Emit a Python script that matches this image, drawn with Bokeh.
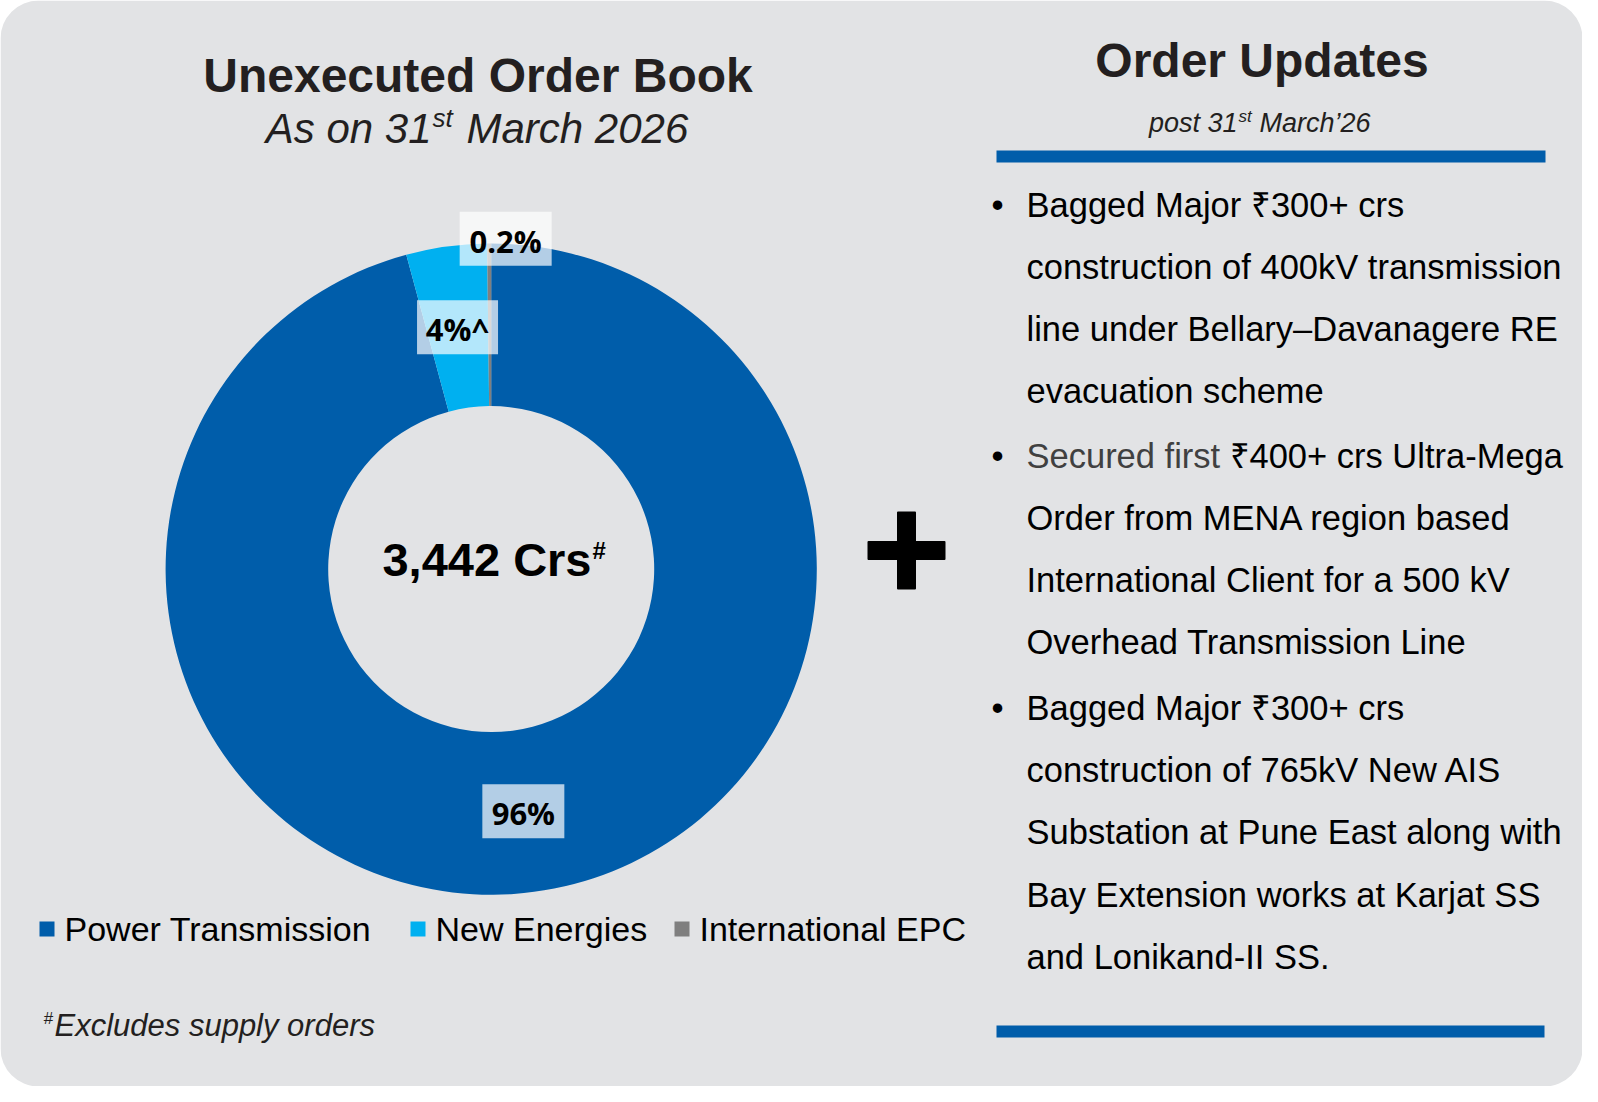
import numpy as np
from bokeh.plotting import figure
from bokeh.models import Range1d, BoxAnnotation
from bokeh.core.properties import value
from bokeh.embed import file_html
from bokeh.resources import INLINE

# ---------------- data ----------------
segments = ["Power Transmission", "New Energies", "International EPC"]
shares = [95.8, 4.0, 0.2]
share_labels = ["96%", "4%^", "0.2%"]
seg_colors = ["#005DAA", "#00B0F0", "#7F7F7F"]
total_text = "3,442 Crs"

title_left = "Unexecuted Order Book"
title_right = "Order Updates"
footnote = "Excludes supply orders"

bullet_1 = ["Bagged Major ₹300+ crs",
            "construction of 400kV transmission",
            "line under Bellary–Davanagere RE",
            "evacuation scheme"]
bullet_2 = ["Secured first ₹400+ crs Ultra-Mega",
            "Order from MENA region based",
            "International Client for a 500 kV",
            "Overhead Transmission Line"]
bullet_3 = ["Bagged Major ₹300+ crs",
            "construction of 765kV New AIS",
            "Substation at Pune East along with",
            "Bay Extension works at Karjat SS",
            "and Lonikand-II SS."]

# ---------------- layout helpers ----------------
W, H = 1582, 1086
def X(x):
    return x
def Y(y):
    return H - y

ARIAL = "Liberation Sans"
DARK = "#231F20"
KB = 0.38  # baseline correction (fraction of font size)

p = figure(width=W, height=H, x_range=Range1d(0, W), y_range=Range1d(0, H),
           output_backend="svg", toolbar_location=None, min_border=0,
           x_axis_location=None, y_axis_location=None)
p.grid.visible = False
p.outline_line_color = None
p.background_fill_color = "white"
p.border_fill_color = "white"

card = BoxAnnotation(left=0, right=W, bottom=0, top=H, fill_color="#E2E3E5",
                     fill_alpha=1.0, line_color=None, border_radius=38, level="underlay")
p.add_layout(card)


def T(x, base, s, fs, style="normal", color="#000000", align="left", font=ARIAL):
    yy = base - KB * fs
    p.text(x=[X(x)], y=[Y(yy)], text=[s], text_font=value(font),
           text_font_size=f"{fs}px", text_font_style=style, text_color=color,
           text_align=align, text_baseline="alphabetic")

# ---------------- left titles ----------------
T(477.5, 93, title_left, 48, "bold", DARK, "center")
T(431, 144, "As on 31", 42, "italic", DARK, "right")
T(432, 127, "st", 26, "italic", DARK, "left")
T(466, 144, "March 2026", 42, "italic", DARK, "left")

# ---------------- donut ----------------
cx, cy = X(490.7), Y(568.6)
r_out, r_in = 325.6, 163.0
vals = np.array(shares, dtype=float)
tot = vals.sum()
cum = np.concatenate([[0.0], np.cumsum(vals)])
starts = np.pi / 2 - 2 * np.pi * cum[:-1] / tot
ends = np.pi / 2 - 2 * np.pi * cum[1:] / tot
p.annular_wedge(x=[cx] * 3, y=[cy] * 3, inner_radius=r_in, outer_radius=r_out,
                start_angle=list(starts), end_angle=list(ends), direction="clock",
                fill_color=seg_colors, line_color=None)

mids = np.pi / 2 - 2 * np.pi * (cum[:-1] + vals / 2) / tot
rm = (r_in + r_out) / 2
label_offsets = [(0, 0), (0, 0), (16, 86)]
box_w = [82, 81, 92]
lx = [cx + rm * np.cos(a) + o[0] for a, o in zip(mids, label_offsets)]
ly = [cy + rm * np.sin(a) + o[1] for a, o in zip(mids, label_offsets)]
p.rect(x=lx, y=ly, width=box_w, height=54, fill_color="white", fill_alpha=0.7,
       line_color=None)
lab_fs = 31
p.text(x=lx, y=[v - 2 for v in ly], text=share_labels,
       text_font=value("Open Sans"), text_font_size=f"{lab_fs}px",
       text_font_style="bold", text_color="#000000",
       text_align="center", text_baseline="alphabetic")

# centre total
T(591, 577, total_text, 47, "bold", "#000000", "right")
T(592, 559, "#", 24, "bold", "#000000", "left")

# ---------------- legend ----------------
leg_sq_x = [46.5, 417.5, 681.5]
leg_tx_x = [64, 435, 699]
leg_fs = 34
p.rect(x=[X(v) for v in leg_sq_x], y=[Y(928.5)] * 3, width=15, height=15,
       fill_color=seg_colors, line_color=None)
p.text(x=[X(v) for v in leg_tx_x], y=[Y(941 - KB * leg_fs)] * 3, text=segments,
       text_font=value(ARIAL), text_font_size=f"{leg_fs}px", text_color="#000000",
       text_align="left", text_baseline="alphabetic")

# footnote
T(43, 1024, "#", 17, "italic", DARK, "left")
T(54, 1037, footnote, 31, "italic", DARK, "left")

# ---------------- plus sign ----------------
p.rect(x=[X(906)], y=[Y(550)], width=76, height=17, fill_color="#000000",
       line_color="#000000", line_width=2, line_join="round")
p.rect(x=[X(906)], y=[Y(550)], width=17, height=76, fill_color="#000000",
       line_color="#000000", line_width=2, line_join="round")

# ---------------- right panel ----------------
T(1261.5, 78, title_right, 48, "bold", DARK, "center")
T(1237, 133, "post 31", 27, "italic", DARK, "right")
T(1238, 122, "st", 17, "italic", DARK, "left")
T(1259, 133, "March’26", 27, "italic", DARK, "left")

p.quad(left=[X(996)], right=[X(1545)], top=[Y(150)], bottom=[Y(162)],
       fill_color="#005DAA", line_color=None)
p.quad(left=[X(996)], right=[X(1544)], top=[Y(1025)], bottom=[Y(1037)],
       fill_color="#005DAA", line_color=None)

baselines = [218, 280, 342, 404, 469, 531, 593, 655, 721, 783, 845, 908, 970]
lines = bullet_1 + bullet_2 + bullet_3
bullet_starts = [0, len(bullet_1), len(bullet_1) + len(bullet_2)]
TX = 1026
BFS = 34.5
for i, (s, b) in enumerate(zip(lines, baselines)):
    if i in bullet_starts:
        T(991, b, "•", BFS, "normal", "#000000", "left")
    if s.startswith("Secured first "):
        T(TX, b, "Secured first ", BFS, "normal", "#404040", "left")
        T(1229, b, s[len("Secured first "):], BFS, "normal", "#000000", "left")
    else:
        T(TX, b, s, BFS, "normal", "#000000", "left")

open("out.html", "w").write(file_html(p, INLINE))
